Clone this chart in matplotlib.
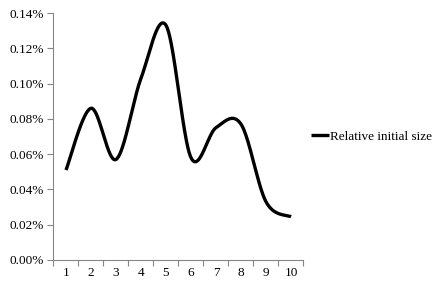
import numpy as np
import matplotlib
matplotlib.use("Agg")
import matplotlib.pyplot as plt
from matplotlib.ticker import FuncFormatter, FixedLocator

plt.rcParams['font.family'] = ['Liberation Serif', 'DejaVu Serif']

categories = [1, 2, 3, 4, 5, 6, 7, 8, 9, 10]
values_pct = [0.051, 0.086, 0.057, 0.103, 0.133, 0.058, 0.075, 0.077, 0.033, 0.0245]
series_name = "Relative initial size"
y_ticks = [0.00, 0.02, 0.04, 0.06, 0.08, 0.10, 0.12, 0.14]


def smooth(xs, ys, n=40):
    # Excel-like smoothed line (cubic Bezier with Catmull-Rom style control points)
    xs = np.asarray(xs, float)
    ys = np.asarray(ys, float)
    P = np.column_stack([xs, ys])
    out = []
    for i in range(len(P) - 1):
        p0 = P[i - 1] if i > 0 else P[i]
        p1 = P[i]
        p2 = P[i + 1]
        p3 = P[i + 2] if i + 2 < len(P) else P[i + 1]
        c1 = p1 + (p2 - p0) / 6.0
        c2 = p2 - (p3 - p1) / 6.0
        t = np.linspace(0, 1, n)[:, None]
        seg = ((1 - t) ** 3) * p1 + 3 * ((1 - t) ** 2) * t * c1 + 3 * (1 - t) * t ** 2 * c2 + t ** 3 * p2
        out.append(seg if i == 0 else seg[1:])
    out = np.vstack(out)
    return out[:, 0], out[:, 1]


fig = plt.figure(figsize=(4.35, 2.84), dpi=100)
ax = fig.add_axes([53.5 / 435, 24 / 284, 250 / 435, 247 / 284])

sx, sy = smooth(categories, values_pct)
ax.plot(sx, sy, color='black', lw=2.4, solid_capstyle='butt', label=series_name)

ax.set_xlim(0.5, 10.5)
ax.set_ylim(0, 0.14)
ax.set_yticks(y_ticks)
ax.yaxis.set_major_formatter(FuncFormatter(lambda v, p: f"{v:.2f}%"))

ax.set_xticks(categories)
ax.set_xticklabels([str(c) for c in categories])
ax.xaxis.set_minor_locator(FixedLocator(np.arange(0.5, 11, 1.0)))
ax.tick_params(axis='x', which='major', length=0, pad=5, labelsize=9.5)
ax.tick_params(axis='x', which='minor', length=4, direction='out', color='#868686', width=0.8)
ax.tick_params(axis='y', which='major', length=4, direction='out', color='#868686', width=0.8, labelsize=9.5, pad=3)

for s in ['top', 'right']:
    ax.spines[s].set_visible(False)
for s in ['left', 'bottom']:
    ax.spines[s].set_color('#868686')
    ax.spines[s].set_linewidth(0.8)

leg = ax.legend(loc='center left', bbox_to_anchor=(1.0, 0.5), frameon=False,
                fontsize=9.5, handlelength=1.3, handletextpad=0.1, borderaxespad=0.2)

fig.savefig('out.png', dpi=100)
